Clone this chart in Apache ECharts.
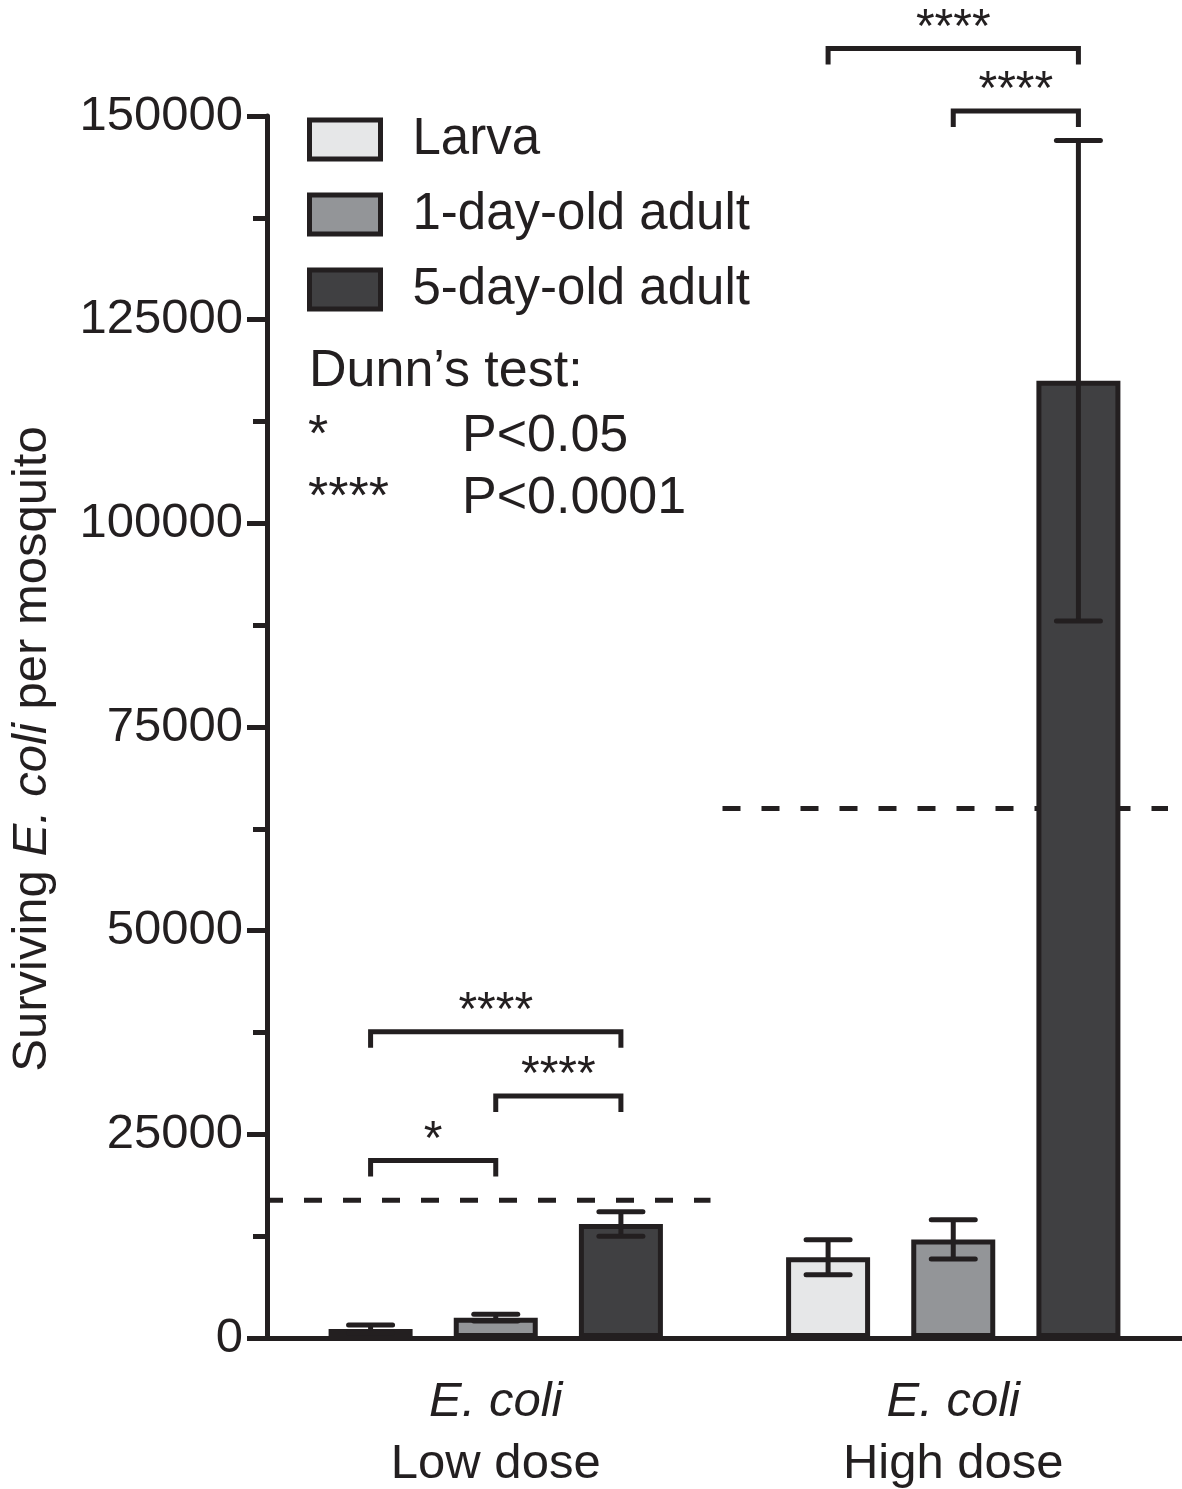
<!DOCTYPE html>
<html>
<head>
<meta charset="utf-8">
<script src="https://cdn.jsdelivr.net/npm/echarts@6/dist/echarts.min.js"></script>
<style>
  html, body { margin: 0; padding: 0; background: #fff; }
  #main { width: 1182px; height: 1489px; }
</style>
</head>
<body>
<div id="main"></div>
<script>
// data
const groups = ["Low dose", "High dose"];
const stages = ["Larva", "1-day-old adult", "5-day-old adult"];
const larvaMean = [1100, 9900];
const day1Mean = [2500, 12100];
const day5Mean = [14000, 117500];
const larvaErr = [500, 2150];
const day1Err = [400, 2400];
const day5Err = [1500, 29500];
const doseLines = [16900, 65000];
// [group, from stage, to stage, height, label]
const brackets = [
  [0, 0, 1, 21800, "*"],
  [0, 1, 2, 29700, "****"],
  [0, 0, 2, 37600, "****"],
  [1, 1, 2, 150600, "****"],
  [1, 0, 2, 158300, "****"]
];
const yMin = 0, yMax = 150000, yStep = 25000;

const ink = "#231f20";
const font = "Liberation Sans, Arial, Helvetica, sans-serif";
const fills = ["#e6e7e8", "#939598", "#404042"];
const barW = 84;
const barGap = 0.49;
const pitch = barW * (1 + barGap);

const means = [larvaMean, day1Mean, day5Mean];
const errs = [larvaErr, day1Err, day5Err];

const errData = [];
means.forEach((m, s) => m.forEach((v, g) => errData.push([g, s, v, errs[s][g]])));

const chart = echarts.init(document.getElementById("main"));

const option = {
  animation: false,
  backgroundColor: "#fff",
  textStyle: { fontFamily: font, color: ink },
  grid: { left: 267, right: 0, top: 116, bottom: 151 },
  legend: {
    orient: "vertical",
    left: 307,
    top: 114,
    padding: 0,
    icon: "rect",
    itemWidth: 71,
    itemHeight: 39,
    itemGap: 24,
    selectedMode: false,
    itemStyle: { borderColor: ink, borderWidth: 5 },
    textStyle: { fontSize: 51, lineHeight: 48, color: ink, fontFamily: font, padding: [0, 0, 0, 27] },
    data: stages
  },
  xAxis: {
    type: "category",
    data: groups,
    axisLine: { lineStyle: { color: ink, width: 5 } },
    axisTick: { alignWithLabel: true, length: 22, lineStyle: { color: ink, width: 5 } },
    axisLabel: {
      margin: 33,
      formatter: (v) => "{i|E. coli}\n{n|" + v + "}",
      rich: {
        i: { fontSize: 49, fontStyle: "italic", lineHeight: 62, color: ink, fontFamily: font },
        n: { fontSize: 49, lineHeight: 62, color: ink, fontFamily: font }
      }
    }
  },
  yAxis: {
    type: "value",
    min: yMin,
    max: yMax,
    interval: yStep,
    splitLine: { show: false },
    axisLine: { show: true, lineStyle: { color: ink, width: 5 } },
    axisTick: { show: true, length: 20, lineStyle: { color: ink, width: 5 } },
    minorTick: { show: true, splitNumber: 2, length: 14, lineStyle: { color: ink, width: 5 } },
    axisLabel: { fontSize: 49, color: ink, margin: 24, fontFamily: font, formatter: (v) => String(v) },
    name: "{n|Surviving }{i|E. coli}{n| per mosquito}",
    nameLocation: "middle",
    nameRotate: 90,
    nameGap: 210,
    nameTextStyle: {
      padding: [0, 44, 0, 0],
      rich: {
        n: { fontSize: 49, color: ink, fontFamily: font },
        i: { fontSize: 49, fontStyle: "italic", color: ink, fontFamily: font }
      }
    }
  },
  graphic: [
    { type: "text", left: 309, top: 346, style: { text: "Dunn\u2019s test:", font: "52px " + font, fill: ink } },
    { type: "text", left: 308, top: 411, style: { text: "*", font: "52px " + font, fill: ink } },
    { type: "text", left: 462, top: 411, style: { text: "P<0.05", font: "52px " + font, fill: ink } },
    { type: "text", left: 308, top: 473, style: { text: "****", font: "52px " + font, fill: ink } },
    { type: "text", left: 462, top: 473, style: { text: "P<0.0001", font: "52px " + font, fill: ink } }
  ],
  series: [
    ...stages.map((name, s) => ({
      type: "bar",
      name: name,
      data: means[s],
      barWidth: barW,
      barGap: barGap * 100 + "%",
      itemStyle: { color: fills[s], borderColor: ink, borderWidth: 5 },
      z: 2
    })),
    {
      type: "custom",
      name: "err",
      data: errData,
      encode: { x: 0, y: 2 },
      z: 3,
      renderItem: (params, api) => {
        const g = api.value(0), s = api.value(1), m = api.value(2), e = api.value(3);
        const c = api.coord([g, m]);
        const x = c[0] + (s - 1) * pitch;
        const yt = api.coord([g, m + e])[1];
        const yb = api.coord([g, m - e])[1];
        const st = { stroke: ink, lineWidth: 5, lineCap: "round" };
        return {
          type: "group",
          children: [
            { type: "line", shape: { x1: x, y1: yb, x2: x, y2: yt }, style: Object.assign({}, st, { lineCap: "butt" }) },
            { type: "line", shape: { x1: x - 22, y1: yt, x2: x + 22, y2: yt }, style: st },
            { type: "line", shape: { x1: x - 22, y1: yb, x2: x + 22, y2: yb }, style: st }
          ]
        };
      }
    },
    {
      type: "custom",
      name: "dose",
      data: doseLines.map((v, g) => [g, v]),
      encode: { x: 0, y: 1 },
      z: 1,
      renderItem: (params, api) => {
        const c = api.coord([api.value(0), api.value(1)]);
        const bw = api.size([1, 0])[0];
        return {
          type: "line",
          shape: { x1: c[0] - bw / 2 - 2, y1: c[1], x2: c[0] + bw / 2 - 14, y2: c[1] },
          style: { stroke: ink, lineWidth: 5, lineDash: [18, 21] }
        };
      }
    },
    {
      type: "custom",
      name: "sig",
      clip: false,
      data: brackets,
      encode: { x: 0, y: 3 },
      z: 4,
      renderItem: (params, api) => {
        const b = brackets[params.dataIndex];
        const c = api.coord([b[0], b[3]]);
        const x1 = c[0] + (b[1] - 1) * pitch;
        const x2 = c[0] + (b[2] - 1) * pitch;
        const y = c[1];
        return {
          type: "group",
          children: [
            {
              type: "polyline",
              shape: { points: [[x1, y + 16], [x1, y], [x2, y], [x2, y + 16]] },
              style: { stroke: ink, lineWidth: 5, fill: null, lineJoin: "miter" }
            },
            {
              type: "text",
              style: {
                x: (x1 + x2) / 2, y: y - 20, text: b[4],
                font: "48px " + font, fill: ink, align: "center", verticalAlign: "middle"
              }
            }
          ]
        };
      }
    }
  ]
};

chart.setOption(option);
</script>
</body>
</html>
